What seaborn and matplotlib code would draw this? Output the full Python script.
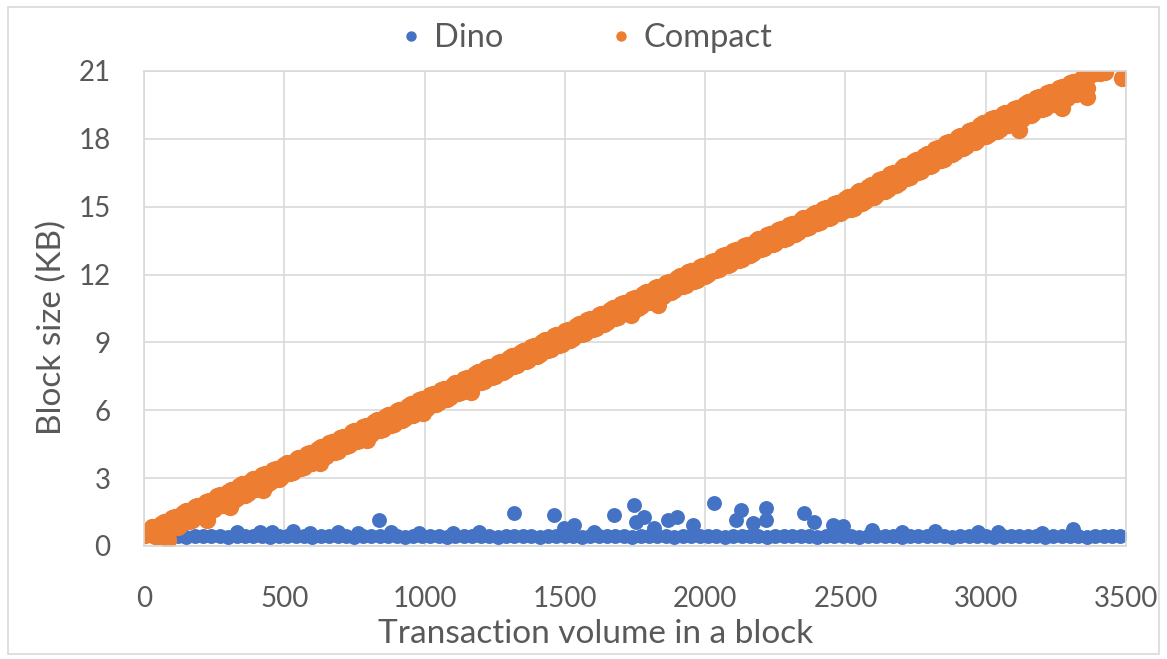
import pandas as pd
import matplotlib.pyplot as plt
import seaborn as sns
from matplotlib.lines import Line2D
from matplotlib.patches import Rectangle

# Dino: baseline blocks (~0.42 KB) plus small bumps and outliers
dino_x = [
    90, 120, 150, 180, 210, 240, 270, 300, 330, 360, 390, 420, 450, 480, 510, 540, 570, 600, 630,
    660, 690, 720, 750, 780, 810, 840, 870, 900, 930, 960, 990, 1020, 1050, 1080, 1110, 1140, 1170, 1200,
    1230, 1260, 1290, 1320, 1350, 1380, 1410, 1440, 1470, 1500, 1530, 1560, 1590, 1620, 1650, 1680, 1710, 1740, 1770,
    1800, 1830, 1860, 1890, 1920, 1950, 1980, 2010, 2040, 2070, 2100, 2130, 2160, 2190, 2220, 2250, 2280, 2310, 2340,
    2370, 2400, 2430, 2460, 2490, 2520, 2550, 2580, 2610, 2640, 2670, 2700, 2730, 2760, 2790, 2820, 2850, 2880, 2910,
    2940, 2970, 3000, 3030, 3060, 3090, 3120, 3150, 3180, 3210, 3240, 3270, 3300, 3330, 3360, 3390, 3420, 3450, 3480,
    # bumps
    332, 414, 457, 532, 593, 693, 764, 879, 979, 1100, 1193, 1496, 1604, 1818, 2461, 2596, 2700, 2818, 2971, 3043,
    3200, 3311,
    # outliers
    836, 1318, 1461, 1532, 1675, 1746, 1782, 1754, 1868, 1900, 1957, 2032, 2129, 2111, 2218, 2218, 2171, 2354, 2389,
    2457, 2493,
]
dino_y = [
    0.42, 0.43, 0.41, 0.42, 0.42, 0.43, 0.42, 0.41, 0.42, 0.43, 0.42, 0.42, 0.41, 0.42, 0.43, 0.42, 0.42, 0.41, 0.42,
    0.42, 0.43, 0.42, 0.41, 0.42, 0.42, 0.43, 0.42, 0.42, 0.41, 0.42, 0.43, 0.42, 0.42, 0.41, 0.42, 0.42, 0.43, 0.42,
    0.42, 0.41, 0.42, 0.43, 0.42, 0.42, 0.41, 0.42, 0.42, 0.43, 0.42, 0.41, 0.42, 0.42, 0.43, 0.42, 0.42, 0.41, 0.42,
    0.42, 0.43, 0.42, 0.41, 0.42, 0.42, 0.43, 0.42, 0.42, 0.41, 0.42, 0.43, 0.42, 0.42, 0.41, 0.42, 0.42, 0.43, 0.42,
    0.42, 0.41, 0.42, 0.43, 0.42, 0.42, 0.41, 0.42, 0.42, 0.43, 0.42, 0.41, 0.42, 0.42, 0.43, 0.42, 0.42, 0.41, 0.42,
    0.42, 0.43, 0.42, 0.41, 0.42, 0.42, 0.43, 0.42, 0.42, 0.41, 0.42, 0.43, 0.42, 0.42, 0.41, 0.42, 0.42, 0.43, 0.42,
    # bumps
    0.60, 0.62, 0.60, 0.66, 0.58, 0.60, 0.58, 0.60, 0.56, 0.56, 0.62, 0.78, 0.60, 0.80, 0.64, 0.72, 0.60, 0.66, 0.62,
    0.64, 0.58, 0.76,
    # outliers
    1.15, 1.46, 1.37, 0.93, 1.37, 1.81, 1.28, 1.06, 1.15, 1.28, 0.93, 1.90, 1.59, 1.15, 1.68, 1.15, 1.02, 1.46, 1.06,
    0.93, 0.88,
]

# Compact: two rows along the upper edge of the band, two along the lower edge, then stray points
compact_x = [
    # upper edge
    20, 60, 100, 140, 180, 220, 260, 300, 340, 380, 420, 460, 500, 540, 580, 620, 660, 700, 740, 780,
    820, 860, 900, 940, 980, 1020, 1060, 1100, 1140, 1180, 1220, 1260, 1300, 1340, 1380, 1420, 1460, 1500, 1540, 1580,
    1620, 1660, 1700, 1740, 1780, 1820, 1860, 1900, 1940, 1980, 2020, 2060, 2100, 2140, 2180, 2220, 2260, 2300, 2340,
    2380, 2420, 2460, 2500, 2540, 2580, 2620, 2660, 2700, 2740, 2780, 2820, 2860, 2900, 2940, 2980, 3020, 3060, 3100,
    3140, 3180, 3220, 3260, 3300, 3340, 3380,
    30, 70, 110, 150, 190, 230, 270, 310, 350, 390, 430, 470, 510, 550, 590, 630, 670, 710, 750, 790,
    830, 870, 910, 950, 990, 1030, 1070, 1110, 1150, 1190, 1230, 1270, 1310, 1350, 1390, 1430, 1470, 1510, 1550, 1590,
    1630, 1670, 1710, 1750, 1790, 1830, 1870, 1910, 1950, 1990, 2030, 2070, 2110, 2150, 2190, 2230, 2270, 2310, 2350,
    2390, 2430, 2470, 2510, 2550, 2590, 2630, 2670, 2710, 2750, 2790, 2830, 2870, 2910, 2950, 2990, 3030, 3070, 3110,
    3150, 3190, 3230, 3270, 3310, 3350,
    # lower edge
    40, 80, 120, 160, 200, 240, 280, 320, 360, 400, 440, 480, 520, 560, 600, 640, 680, 720, 760, 800,
    840, 880, 920, 960, 1000, 1040, 1080, 1120, 1160, 1200, 1240, 1280, 1320, 1360, 1400, 1440, 1480, 1520, 1560, 1600,
    1640, 1680, 1720, 1760, 1800, 1840, 1880, 1920, 1960, 2000, 2040, 2080, 2120, 2160, 2200, 2240, 2280, 2320, 2360,
    2400, 2440, 2480, 2520, 2560, 2600, 2640, 2680, 2720, 2760, 2800, 2840, 2880, 2920, 2960, 3000, 3040, 3080, 3120,
    3160, 3200, 3240, 3280, 3320, 3360,
    50, 90, 130, 170, 210, 250, 290, 330, 370, 410, 450, 490, 530, 570, 610, 650, 690, 730, 770, 810,
    850, 890, 930, 970, 1010, 1050, 1090, 1130, 1170, 1210, 1250, 1290, 1330, 1370, 1410, 1450, 1490, 1530, 1570, 1610,
    1650, 1690, 1730, 1770, 1810, 1850, 1890, 1930, 1970, 2010, 2050, 2090, 2130, 2170, 2210, 2250, 2290, 2330, 2370,
    2410, 2450, 2490, 2530, 2570, 2610, 2650, 2690, 2730, 2770, 2810, 2850, 2890, 2930, 2970, 3010, 3050, 3090, 3130,
    3170, 3210, 3250, 3290, 3330,
    # stray points
    5, 86, 225, 307, 425, 629, 796, 993, 1164, 1736, 1832, 3118, 3271, 3361, 3407, 3425, 3486,
]
compact_y = [
    0.70, 0.98, 1.22, 1.46, 1.72, 1.93, 2.20, 2.40, 2.66, 2.88, 3.14, 3.35, 3.60, 3.82, 4.08, 4.30, 4.55, 4.77, 5.02, 5.25,
    5.49, 5.72, 5.97, 6.19, 6.44, 6.66, 6.91, 7.13, 7.38, 7.61, 7.85, 8.08, 8.33, 8.55, 8.80, 9.02, 9.27, 9.50, 9.74, 9.97,
    10.21, 10.44, 10.69, 10.91, 11.16, 11.39, 11.63, 11.86, 12.10, 12.33, 12.57, 12.80, 13.03, 13.26, 13.49, 13.73, 13.96,
    14.19, 14.42, 14.65, 14.89, 15.12, 15.35, 15.62, 15.89, 16.17, 16.44, 16.71, 16.98, 17.25, 17.53, 17.80, 18.07, 18.34,
    18.61, 18.87, 19.10, 19.33, 19.56, 19.79, 20.02, 20.25, 20.45, 20.65, 20.85,
    0.83, 1.06, 1.30, 1.54, 1.77, 2.01, 2.24, 2.48, 2.72, 2.95, 3.19, 3.42, 3.66, 3.90, 4.13, 4.37, 4.60, 4.84, 5.08, 5.31,
    5.55, 5.78, 6.02, 6.26, 6.49, 6.73, 6.96, 7.20, 7.44, 7.67, 7.91, 8.14, 8.38, 8.62, 8.85, 9.09, 9.32, 9.56, 9.80, 10.03,
    10.27, 10.50, 10.74, 10.98, 11.21, 11.45, 11.68, 11.92, 12.16, 12.39, 12.62, 12.86, 13.09, 13.32, 13.55, 13.78, 14.02,
    14.25, 14.48, 14.71, 14.94, 15.18, 15.42, 15.69, 15.96, 16.23, 16.51, 16.78, 17.05, 17.32, 17.59, 17.87, 18.14, 18.41,
    18.68, 18.92, 19.15, 19.38, 19.61, 19.84, 20.07, 20.30, 20.50, 20.70,
    0.45, 0.62, 0.86, 1.09, 1.33, 1.57, 1.80, 2.04, 2.27, 2.51, 2.75, 2.98, 3.22, 3.45, 3.69, 3.93, 4.16, 4.40, 4.63, 4.87,
    5.11, 5.34, 5.58, 5.81, 6.05, 6.29, 6.52, 6.76, 6.99, 7.23, 7.47, 7.70, 7.94, 8.17, 8.41, 8.65, 8.88, 9.12, 9.35, 9.59,
    9.83, 10.06, 10.30, 10.53, 10.77, 11.01, 11.24, 11.48, 11.71, 11.95, 12.18, 12.41, 12.65, 12.88, 13.11, 13.34, 13.57,
    13.81, 14.04, 14.27, 14.50, 14.73, 14.92, 15.17, 15.44, 15.70, 15.98, 16.25, 16.52, 16.78, 17.06, 17.33, 17.60, 17.88,
    18.12, 18.36, 18.60, 18.82, 19.05, 19.30, 19.52, 19.75, 20.00, 20.25,
    0.45, 0.68, 0.92, 1.15, 1.39, 1.63, 1.86, 2.10, 2.33, 2.57, 2.81, 3.04, 3.28, 3.51, 3.75, 3.99, 4.22, 4.46, 4.69, 4.93,
    5.17, 5.40, 5.64, 5.87, 6.11, 6.35, 6.58, 6.82, 7.05, 7.29, 7.53, 7.76, 8.00, 8.23, 8.47, 8.71, 8.94, 9.18, 9.41, 9.65,
    9.89, 10.12, 10.36, 10.59, 10.83, 11.07, 11.30, 11.54, 11.77, 12.01, 12.24, 12.47, 12.70, 12.94, 13.17, 13.40, 13.63,
    13.86, 14.10, 14.33, 14.56, 14.79, 14.95, 15.23, 15.50, 15.77, 16.04, 16.31, 16.59, 16.86, 17.13, 17.40, 17.67, 17.95,
    18.20, 18.43, 18.66, 18.89, 19.12, 19.35, 19.58, 19.82, 20.10,
    0.50, 0.27, 1.15, 1.73, 2.48, 3.67, 4.69, 5.88, 6.80, 10.20, 10.66, 18.40, 19.35, 19.85, 20.90, 20.95, 20.70,
]

series = ['Dino', 'Compact']
colors = {'Dino': '#4472C4', 'Compact': '#ED7D31'}
x_ticks = [0, 500, 1000, 1500, 2000, 2500, 3000, 3500]
y_ticks = [0, 3, 6, 9, 12, 15, 18, 21]

dino = pd.DataFrame({'tx': dino_x, 'size': dino_y})
compact = pd.DataFrame({'tx': compact_x, 'size': compact_y})

sns.set_style('white')
plt.rcParams['font.family'] = ['Lato', 'DejaVu Sans']
text_color = '#595959'
grid_color = '#D9D9D9'

fig = plt.figure(figsize=(11.67, 6.59), dpi=100)
ax = fig.add_axes([0.1234, 0.1715, 0.8415, 0.7208])

sns.scatterplot(data=dino, x='tx', y='size', color=colors['Dino'], s=115,
                linewidth=0, alpha=1, ax=ax)
sns.scatterplot(data=compact, x='tx', y='size', color=colors['Compact'], s=155,
                linewidth=0, alpha=1, ax=ax)

ax.set_xlim(0, 3500)
ax.set_ylim(0, 21)
ax.set_xticks(x_ticks)
ax.set_yticks(y_ticks)
ax.grid(True, color=grid_color, linewidth=1.2)
ax.set_axisbelow(True)
for sp in ax.spines.values():
    sp.set_color(grid_color)
    sp.set_linewidth(1.2)
ax.tick_params(axis='both', length=0, labelsize=20, colors=text_color)
ax.tick_params(axis='x', pad=29)
ax.tick_params(axis='y', pad=24)
ax.set_xlabel('Transaction volume in a block', fontsize=24, color=text_color)
ax.set_ylabel('Block size (KB)', fontsize=24, color=text_color)
ax.xaxis.label.set_va('center')
ax.yaxis.label.set_va('center')
ax.xaxis.set_label_coords(0.46, -0.185)
ax.yaxis.set_label_coords(-0.094, 0.46)

handles = [Line2D([], [], marker='o', linestyle='', markersize=7.5,
                  markerfacecolor=colors[s], markeredgewidth=0) for s in series]
fig.legend(handles, series, loc='center', bbox_to_anchor=(0.503, 0.942), ncol=2,
           frameon=False, fontsize=23.5, labelcolor=text_color, handlelength=0.6,
           handletextpad=0.4, columnspacing=3.3)

# light chart-area border
fig.patches.append(Rectangle((0.007, 0.008), 0.986, 0.982, transform=fig.transFigure,
                             fill=False, edgecolor=grid_color, linewidth=1.2))

fig.savefig('out.png', dpi=100)
